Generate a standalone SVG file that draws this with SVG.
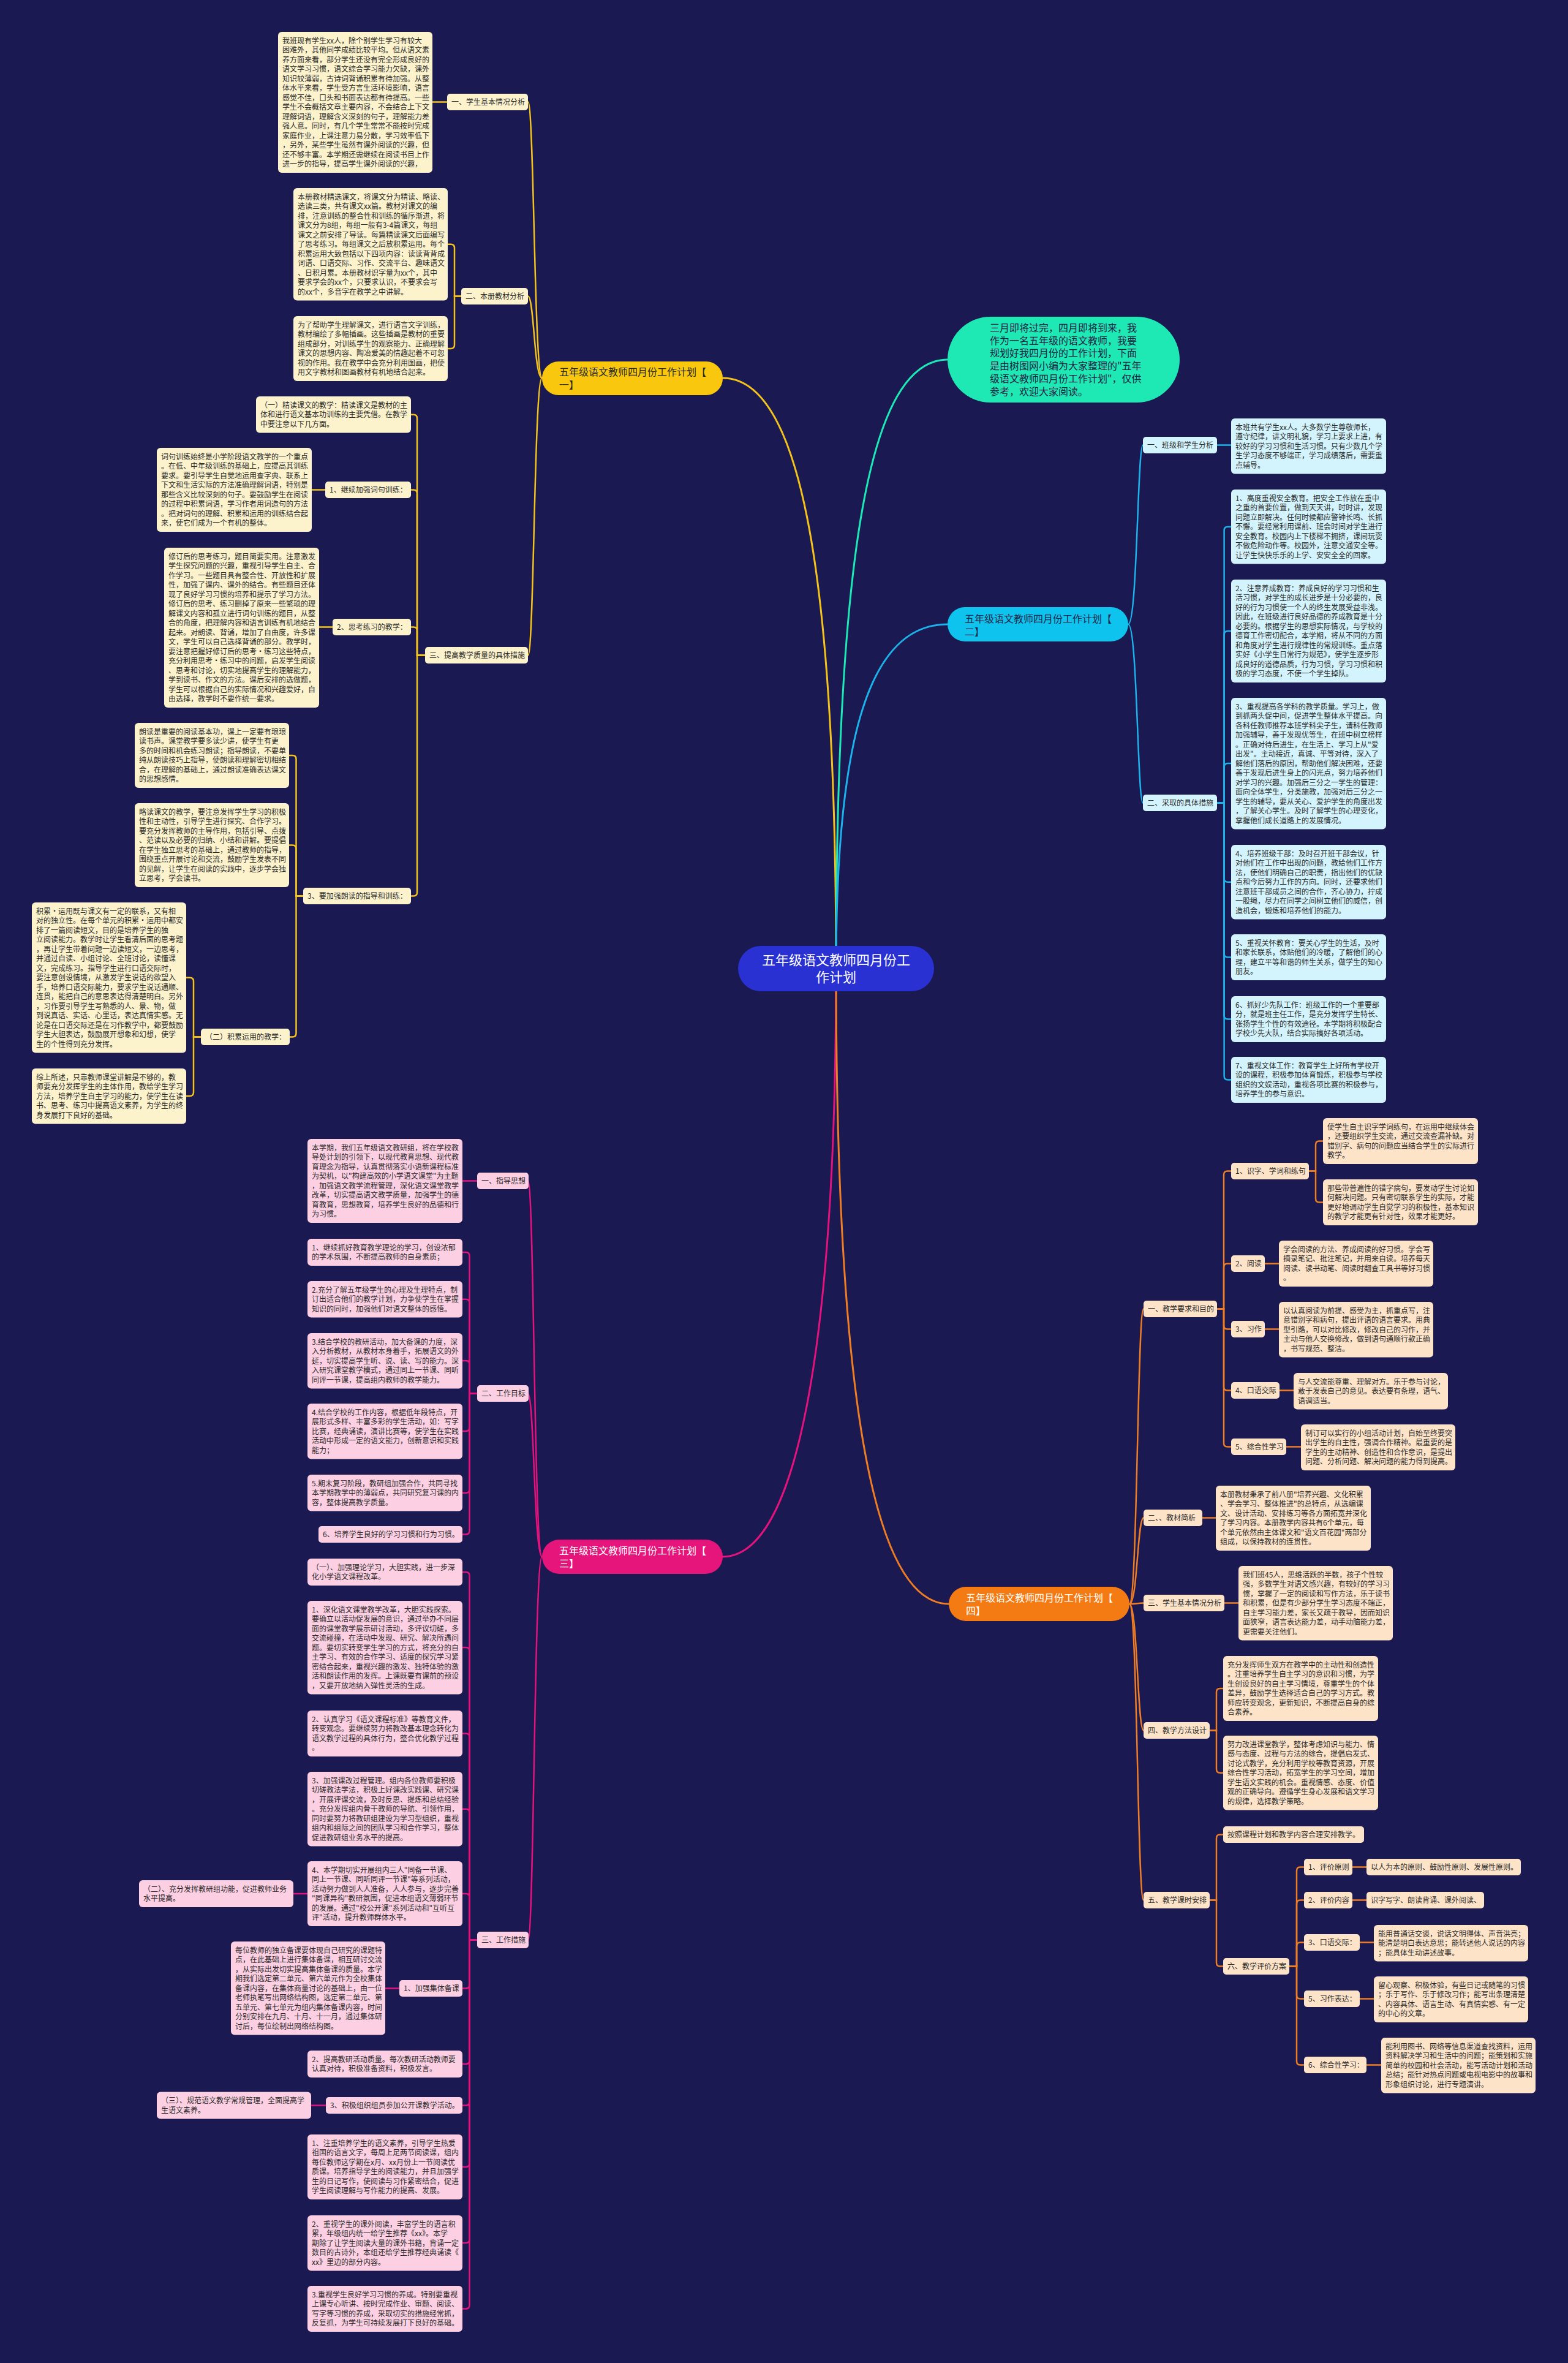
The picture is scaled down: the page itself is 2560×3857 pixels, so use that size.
<svg xmlns="http://www.w3.org/2000/svg" width="2560" height="3857" viewBox="0 0 2560 3857">
<style>
.t{font-family:"Noto Sans CJK SC","Noto Sans",sans-serif;font-size:12px;fill:#2b2b2b}
.b{font-family:"Noto Sans CJK SC","Noto Sans",sans-serif;font-size:16px}
.c{font-family:"Noto Sans CJK SC","Noto Sans",sans-serif;font-size:22px;fill:#ffffff}
.ny{fill:#fcf3cd}.np{fill:#fccfe2}.nc{fill:#d3f4fc}.no{fill:#fde3c8}
.ly,.lp,.lc,.lo,.lt{fill:none;stroke-width:2.5;stroke-linecap:round}
.ly{stroke:#f3c21b}.lp{stroke:#e3137c}.lc{stroke:#1db3ea}.lo{stroke:#ee7d24}.lt{stroke:#1de9b6}
.m{stroke-width:3}
</style>
<rect x="0" y="0" width="2560" height="3857" fill="#1a1952"/>
<g id="connectors">
<path class="ly m" d="M1365 1581 C1365 900 1300 617 1180 617"/>
<path class="lt m" d="M1365 1581 C1365 900 1420 587 1547 587"/>
<path class="lc m" d="M1365 1581 C1365 1200 1420 1019 1547 1019"/>
<path class="lp m" d="M1365 1581 C1365 2200 1300 2541 1180 2541"/>
<path class="lo m" d="M1365 1581 C1365 2250 1420 2618 1549 2618"/>
<path class="ly" d="M885 617 C872 617 872 166.5 862 166.5"/>
<path class="ly" d="M885 617 C872 617 872 483.5 862 483.5"/>
<path class="ly" d="M885 617 C872 617 872 1069.5 862 1069.5"/>
<path class="ly" d="M730 166.5 H706"/>
<path class="ly" d="M753 483.5 H742 V404.75 Q742 398.75 736 398.75 H731"/>
<path class="ly" d="M753 483.5 H742 V563 Q742 569 736 569 H731"/>
<path class="ly" d="M694 1069.5 H681 V682.75 Q681 676.75 675 676.75 H671"/>
<path class="ly" d="M694 1069.5 H681 V805.5 Q681 799.5 675 799.5 H671"/>
<path class="ly" d="M694 1069.5 H681 V1029.5 Q681 1023.5 675 1023.5 H671"/>
<path class="ly" d="M694 1069.5 H681 V1456.5 Q681 1462.5 675 1462.5 H671"/>
<path class="ly" d="M531 799.5 H509"/>
<path class="ly" d="M543 1023.5 H521"/>
<path class="ly" d="M495 1462.5 H483.5 V1239 Q483.5 1233 477.5 1233 H472"/>
<path class="ly" d="M495 1462.5 H483.5 V1385.5 Q483.5 1379.5 477.5 1379.5 H472"/>
<path class="ly" d="M495 1462.5 H483.5 V1686.5 Q483.5 1692.5 477.5 1692.5 H473"/>
<path class="ly" d="M328 1692.5 H316 V1601.75 Q316 1595.75 310 1595.75 H304"/>
<path class="ly" d="M328 1692.5 H316 V1783 Q316 1789 310 1789 H304"/>
<path class="lp" d="M885 2541 C872 2541 872 1927.5 862 1927.5"/>
<path class="lp" d="M885 2541 C872 2541 872 2274.5 862 2274.5"/>
<path class="lp" d="M885 2541 C872 2541 872 3166.5 862 3166.5"/>
<path class="lp" d="M779 1927.5 H755"/>
<path class="lp" d="M779 2274.5 H766.5 V2050 Q766.5 2044 760.5 2044 H755"/>
<path class="lp" d="M779 2274.5 H766.5 V2126.75 Q766.5 2120.75 760.5 2120.75 H755"/>
<path class="lp" d="M779 2274.5 H766.5 V2227 Q766.5 2221 760.5 2221 H755"/>
<path class="lp" d="M779 2274.5 H766.5 V2330 Q766.5 2336 760.5 2336 H755"/>
<path class="lp" d="M779 2274.5 H766.5 V2430.75 Q766.5 2436.75 760.5 2436.75 H755"/>
<path class="lp" d="M779 2274.5 H766.5 V2498.5 Q766.5 2504.5 760.5 2504.5 H755"/>
<path class="lp" d="M779 3166.5 H766.5 V2572 Q766.5 2566 760.5 2566 H755"/>
<path class="lp" d="M779 3166.5 H766.5 V2695 Q766.5 2689 760.5 2689 H755"/>
<path class="lp" d="M779 3166.5 H766.5 V2835.5 Q766.5 2829.5 760.5 2829.5 H755"/>
<path class="lp" d="M779 3166.5 H766.5 V2958.75 Q766.5 2952.75 760.5 2952.75 H755"/>
<path class="lp" d="M779 3166.5 H766.5 V3097 Q766.5 3091 760.5 3091 H755"/>
<path class="lp" d="M779 3166.5 H766.5 V3239.5 Q766.5 3245.5 760.5 3245.5 H755"/>
<path class="lp" d="M779 3166.5 H766.5 V3363 Q766.5 3369 760.5 3369 H755"/>
<path class="lp" d="M779 3166.5 H766.5 V3430.5 Q766.5 3436.5 760.5 3436.5 H755"/>
<path class="lp" d="M779 3166.5 H766.5 V3531 Q766.5 3537 760.5 3537 H755"/>
<path class="lp" d="M779 3166.5 H766.5 V3655 Q766.5 3661 760.5 3661 H755"/>
<path class="lp" d="M779 3166.5 H766.5 V3762.5 Q766.5 3768.5 760.5 3768.5 H755"/>
<path class="lp" d="M502 3091 H479"/>
<path class="lp" d="M652 3245.5 H629"/>
<path class="lp" d="M532 3436.5 H508"/>
<path class="lc" d="M1842 1019 C1857 1019 1857 726.5 1866 726.5"/>
<path class="lc" d="M1842 1019 C1857 1019 1857 1310.5 1866 1310.5"/>
<path class="lc" d="M1987 726.5 H2010"/>
<path class="lc" d="M1987 1310.5 H1998.6 V865.75 Q1998.6 859.75 2004.6 859.75 H2010"/>
<path class="lc" d="M1987 1310.5 H1998.6 V1036 Q1998.6 1030 2004.6 1030 H2010"/>
<path class="lc" d="M1987 1310.5 H1998.6 V1252 Q1998.6 1246 2004.6 1246 H2010"/>
<path class="lc" d="M1987 1310.5 H1998.6 V1433.75 Q1998.6 1439.75 2004.6 1439.75 H2010"/>
<path class="lc" d="M1987 1310.5 H1998.6 V1556.5 Q1998.6 1562.5 2004.6 1562.5 H2010"/>
<path class="lc" d="M1987 1310.5 H1998.6 V1657.5 Q1998.6 1663.5 2004.6 1663.5 H2010"/>
<path class="lc" d="M1987 1310.5 H1998.6 V1756.5 Q1998.6 1762.5 2004.6 1762.5 H2010"/>
<path class="lo" d="M1844 2618 C1857 2618 1857 2136.5 1867 2136.5"/>
<path class="lo" d="M1844 2618 C1857 2618 1857 2477.5 1867 2477.5"/>
<path class="lo" d="M1844 2618 C1857 2618 1857 2616.5 1867 2616.5"/>
<path class="lo" d="M1844 2618 C1857 2618 1857 2824.5 1867 2824.5"/>
<path class="lo" d="M1844 2618 C1857 2618 1857 3101.5 1867 3101.5"/>
<path class="lo" d="M1987 2136.5 H1998 V1917.5 Q1998 1911.5 2004 1911.5 H2010"/>
<path class="lo" d="M1987 2136.5 H1998 V2068.5 Q1998 2062.5 2004 2062.5 H2010"/>
<path class="lo" d="M1987 2136.5 H1998 V2163.5 Q1998 2169.5 2004 2169.5 H2010"/>
<path class="lo" d="M1987 2136.5 H1998 V2263.5 Q1998 2269.5 2004 2269.5 H2010"/>
<path class="lo" d="M1987 2136.5 H1998 V2355.5 Q1998 2361.5 2004 2361.5 H2010"/>
<path class="lo" d="M2137 1911.5 H2148 V1868.5 Q2148 1862.5 2154 1862.5 H2160"/>
<path class="lo" d="M2137 1911.5 H2148 V1956.5 Q2148 1962.5 2154 1962.5 H2160"/>
<path class="lo" d="M2065 2062.5 H2088"/>
<path class="lo" d="M2065 2169.5 H2088"/>
<path class="lo" d="M2089 2269.5 H2112"/>
<path class="lo" d="M2100 2361.5 H2124"/>
<path class="lo" d="M1963 2477.5 H1985"/>
<path class="lo" d="M1999 2616.5 H2022"/>
<path class="lo" d="M1975 2824.5 H1986 V2762 Q1986 2756 1992 2756 H1997"/>
<path class="lo" d="M1975 2824.5 H1986 V2887.75 Q1986 2893.75 1992 2893.75 H1997"/>
<path class="lo" d="M1975 3101.5 H1986 V3000.5 Q1986 2994.5 1992 2994.5 H1997"/>
<path class="lo" d="M1975 3101.5 H1986 V3203.5 Q1986 3209.5 1992 3209.5 H1997"/>
<path class="lo" d="M2105 3209.5 H2117 V3053.5 Q2117 3047.5 2123 3047.5 H2129"/>
<path class="lo" d="M2105 3209.5 H2117 V3107.5 Q2117 3101.5 2123 3101.5 H2129"/>
<path class="lo" d="M2105 3209.5 H2117 V3176.5 Q2117 3170.5 2123 3170.5 H2129"/>
<path class="lo" d="M2105 3209.5 H2117 V3256.5 Q2117 3262.5 2123 3262.5 H2129"/>
<path class="lo" d="M2105 3209.5 H2117 V3364.5 Q2117 3370.5 2123 3370.5 H2129"/>
<path class="lo" d="M2208 3047.5 H2231"/>
<path class="lo" d="M2208 3101.5 H2231"/>
<path class="lo" d="M2220 3170.5 H2243"/>
<path class="lo" d="M2220 3262.5 H2243"/>
<path class="lo" d="M2231 3370.5 H2255"/>
</g>
<g id="root"><rect x="1205" y="1544" width="320" height="74" rx="37" fill="#2a31d2"/><text class="c" text-anchor="middle"><tspan x="1365" y="1575">五年级语文教师四月份工</tspan><tspan x="1365" y="1603">作计划</tspan></text></g>
<g id="intro"><rect x="1547" y="517" width="379" height="140" rx="70" fill="#1ee8b4"/><text class="b" fill="#222244"><tspan x="1616" y="541">三月即将过完，四月即将到来，我</tspan><tspan x="1616" dy="20.7">作为一名五年级的语文教师，我要</tspan><tspan x="1616" dy="20.7">规划好我四月份的工作计划，下面</tspan><tspan x="1616" dy="20.7">是由树图网小编为大家整理的"五年</tspan><tspan x="1616" dy="20.7">级语文教师四月份工作计划"，仅供</tspan><tspan x="1616" dy="20.7">参考，欢迎大家阅读。</tspan></text></g>
<g id="b1"><rect x="885" y="590" width="295" height="55" rx="27" fill="#f9c80e"/><text class="b" fill="#2a2a2a"><tspan x="913" y="613">五年级语文教师四月份工作计划【</tspan><tspan x="913" dy="21">一】</tspan></text></g>
<g id="b2"><rect x="1547" y="991" width="295" height="56" rx="28" fill="#0fc3ef"/><text class="b" fill="#1f2a4a"><tspan x="1575" y="1016">五年级语文教师四月份工作计划【</tspan><tspan x="1575" dy="21">二】</tspan></text></g>
<g id="b3"><rect x="885" y="2513" width="295" height="56" rx="28" fill="#e5157b"/><text class="b" fill="#ffffff"><tspan x="913" y="2537">五年级语文教师四月份工作计划【</tspan><tspan x="913" dy="21">三】</tspan></text></g>
<g id="b4"><rect x="1549" y="2590" width="295" height="56" rx="28" fill="#f47b13"/><text class="b" fill="#ffffff"><tspan x="1577" y="2614">五年级语文教师四月份工作计划【</tspan><tspan x="1577" dy="21">四】</tspan></text></g>

<g id="y-l1"><rect class="ny" x="730" y="153" width="132" height="27" rx="5"/><text class="t" x="737" y="171">一、学生基本情况分析</text></g>
<g id="y-n1"><rect class="ny" x="454" y="52" width="252" height="230" rx="6"/><text class="t"><tspan x="461" y="70.5">我班现有学生xx人，除个别学生学习有较大</tspan><tspan x="461" dy="15.5">困难外，其他同学成绩比较平均。但从语文素</tspan><tspan x="461" dy="15.5">养方面来看，部分学生还没有完全形成良好的</tspan><tspan x="461" dy="15.5">语文学习习惯，语文综合学习能力欠缺，课外</tspan><tspan x="461" dy="15.5">知识较薄弱，古诗词背诵积累有待加强。从整</tspan><tspan x="461" dy="15.5">体水平来看，学生受方言生活环境影响，语言</tspan><tspan x="461" dy="15.5">感觉不佳，口头和书面表达都有待提高。一些</tspan><tspan x="461" dy="15.5">学生不会概括文章主要内容，不会结合上下文</tspan><tspan x="461" dy="15.5">理解词语，理解含义深刻的句子，理解能力差</tspan><tspan x="461" dy="15.5">强人意。同时，有几个学生常常不能按时完成</tspan><tspan x="461" dy="15.5">家庭作业，上课注意力易分散，学习效率低下</tspan><tspan x="461" dy="15.5">，另外，某些学生虽然有课外阅读的兴趣，但</tspan><tspan x="461" dy="15.5">还不够丰富。本学期还需继续在阅读书目上作</tspan><tspan x="461" dy="15.5">进一步的指导，提高学生课外阅读的兴趣，</tspan></text></g>
<g id="y-l2"><rect class="ny" x="753" y="470" width="109" height="27" rx="5"/><text class="t" x="760" y="488">二、本册教材分析</text></g>
<g id="y-n2"><rect class="ny" x="479" y="307" width="252" height="183.5" rx="6"/><text class="t"><tspan x="486" y="325.5">本册教材精选课文，将课文分为精读、略读、</tspan><tspan x="486" dy="15.5">选读三类，共有课文xx篇。教材对课文的编</tspan><tspan x="486" dy="15.5">排，注意训练的整合性和训练的循序渐进，将</tspan><tspan x="486" dy="15.5">课文分为8组，每组一般有3-4篇课文，每组</tspan><tspan x="486" dy="15.5">课文之前安排了导读。每篇精读课文后面编写</tspan><tspan x="486" dy="15.5">了思考练习。每组课文之后放积累运用。每个</tspan><tspan x="486" dy="15.5">积累运用大致包括以下四项内容：读读背背成</tspan><tspan x="486" dy="15.5">词语、口语交际、习作、交流平台、趣味语文</tspan><tspan x="486" dy="15.5">、日积月累。本册教材识字量为xx个，其中</tspan><tspan x="486" dy="15.5">要求学会的xx个，只要求认识，不要求会写</tspan><tspan x="486" dy="15.5">的xx个，多音字在教学之中讲解。</tspan></text></g>
<g id="y-n3"><rect class="ny" x="479" y="516" width="252" height="106" rx="6"/><text class="t"><tspan x="486" y="534.5">为了帮助学生理解课文，进行语言文字训练，</tspan><tspan x="486" dy="15.5">教材编绘了多幅插画。这些插画是教材的重要</tspan><tspan x="486" dy="15.5">组成部分，对训练学生的观察能力、正确理解</tspan><tspan x="486" dy="15.5">课文的思想内容、陶冶爱美的情趣起着不可忽</tspan><tspan x="486" dy="15.5">视的作用。我在教学中会充分利用图画，把使</tspan><tspan x="486" dy="15.5">用文字教材和图画教材有机地结合起来。</tspan></text></g>
<g id="y-l3"><rect class="ny" x="694" y="1056" width="168" height="27" rx="5"/><text class="t" x="701" y="1074">三、提高教学质量的具体措施</text></g>
<g id="y-n4"><rect class="ny" x="418" y="647" width="253" height="59.5" rx="6"/><text class="t"><tspan x="425" y="665.5">（一）精读课文的教学：精读课文是教材的主</tspan><tspan x="425" dy="15.5">体和进行语文基本功训练的主要凭借。在教学</tspan><tspan x="425" dy="15.5">中要注意以下几方面。</tspan></text></g>
<g id="y-l31"><rect class="ny" x="531" y="786" width="140" height="27" rx="5"/><text class="t" x="538" y="804">1、继续加强词句训练：</text></g>
<g id="y-n5"><rect class="ny" x="256" y="731" width="253" height="137" rx="6"/><text class="t"><tspan x="263" y="749.5">词句训练始终是小学阶段语文教学的一个重点</tspan><tspan x="263" dy="15.5">。在低、中年级训练的基础上，应提高其训练</tspan><tspan x="263" dy="15.5">要求。要引导学生自觉地运用查字典、联系上</tspan><tspan x="263" dy="15.5">下文和生活实际的方法准确理解词语，特别是</tspan><tspan x="263" dy="15.5">那些含义比较深刻的句子。要鼓励学生在阅读</tspan><tspan x="263" dy="15.5">的过程中积累词语，学习作者用词造句的方法</tspan><tspan x="263" dy="15.5">。把对词句的理解、积累和运用的训练结合起</tspan><tspan x="263" dy="15.5">来，使它们成为一个有机的整体。</tspan></text></g>
<g id="y-l32"><rect class="ny" x="543" y="1010" width="128" height="27" rx="5"/><text class="t" x="550" y="1028">2、思考练习的教学：</text></g>
<g id="y-n6"><rect class="ny" x="268" y="894" width="253" height="261" rx="6"/><text class="t"><tspan x="275" y="912.5">修订后的思考练习，题目简要实用。注意激发</tspan><tspan x="275" dy="15.5">学生探究问题的兴趣，重视引导学生自主、合</tspan><tspan x="275" dy="15.5">作学习。一些题目具有整合性、开放性和扩展</tspan><tspan x="275" dy="15.5">性，加强了课内、课外的结合。有些题目还体</tspan><tspan x="275" dy="15.5">现了良好学习习惯的培养和提示了学习方法。</tspan><tspan x="275" dy="15.5">修订后的思考、练习删掉了原来一些繁琐的理</tspan><tspan x="275" dy="15.5">解课文内容和孤立进行词句训练的题目，从整</tspan><tspan x="275" dy="15.5">合的角度，把理解内容和语言训练有机地结合</tspan><tspan x="275" dy="15.5">起来。对朗读、背诵，增加了自由度，许多课</tspan><tspan x="275" dy="15.5">文，学生可以自己选择背诵的部分。教学时，</tspan><tspan x="275" dy="15.5">要注意把握好修订后的思考•练习这些特点，</tspan><tspan x="275" dy="15.5">充分利用思考•练习中的问题，启发学生阅读</tspan><tspan x="275" dy="15.5">、思考和讨论，切实地提高学生的理解能力，</tspan><tspan x="275" dy="15.5">学到读书、作文的方法。课后安排的选做题，</tspan><tspan x="275" dy="15.5">学生可以根据自己的实际情况和兴趣爱好，自</tspan><tspan x="275" dy="15.5">由选择，教学时不要作统一要求。</tspan></text></g>
<g id="y-l33"><rect class="ny" x="495" y="1449" width="176" height="27" rx="5"/><text class="t" x="502" y="1467">3、要加强朗读的指导和训练：</text></g>
<g id="y-n7"><rect class="ny" x="220" y="1180" width="252" height="106" rx="6"/><text class="t"><tspan x="227" y="1198.5">朗读是重要的阅读基本功，课上一定要有琅琅</tspan><tspan x="227" dy="15.5">读书声。课堂教学要多读少讲，使学生有更</tspan><tspan x="227" dy="15.5">多的时间和机会练习朗读；指导朗读，不要单</tspan><tspan x="227" dy="15.5">纯从朗读技巧上指导，使朗读和理解密切相结</tspan><tspan x="227" dy="15.5">合，在理解的基础上，通过朗读准确表达课文</tspan><tspan x="227" dy="15.5">的思想感情。</tspan></text></g>
<g id="y-n8"><rect class="ny" x="220" y="1311" width="252" height="137" rx="6"/><text class="t"><tspan x="227" y="1329.5">略读课文的教学，要注意发挥学生学习的积极</tspan><tspan x="227" dy="15.5">性和主动性，引导学生进行探究、合作学习。</tspan><tspan x="227" dy="15.5">要充分发挥教师的主导作用，包括引导、点拨</tspan><tspan x="227" dy="15.5">、范读以及必要的归纳、小结和讲解。要提倡</tspan><tspan x="227" dy="15.5">在学生独立思考的基础上，通过教师的指导，</tspan><tspan x="227" dy="15.5">围绕重点开展讨论和交流，鼓励学生发表不同</tspan><tspan x="227" dy="15.5">的见解，让学生在阅读的实践中，逐步学会独</tspan><tspan x="227" dy="15.5">立思考，学会读书。</tspan></text></g>
<g id="y-l34"><rect class="ny" x="328" y="1679" width="145" height="27" rx="5"/><text class="t" x="335" y="1697">（二）积累运用的教学：</text></g>
<g id="y-n9"><rect class="ny" x="52" y="1473" width="252" height="245.5" rx="6"/><text class="t"><tspan x="59" y="1491.5">积累•运用既与课文有一定的联系，又有相</tspan><tspan x="59" dy="15.5">对的独立性。在每个单元的积累•运用中都安</tspan><tspan x="59" dy="15.5">排了一篇阅读短文，目的是培养学生的独</tspan><tspan x="59" dy="15.5">立阅读能力。教学时让学生看清后面的思考题</tspan><tspan x="59" dy="15.5">，再让学生带着问题一边读短文，一边思考，</tspan><tspan x="59" dy="15.5">并通过自读、小组讨论、全班讨论，读懂课</tspan><tspan x="59" dy="15.5">文，完成练习。指导学生进行口语交际时，</tspan><tspan x="59" dy="15.5">要注意创设情境，从激发学生说话的欲望入</tspan><tspan x="59" dy="15.5">手，培养口语交际能力，要求学生说话通顺、</tspan><tspan x="59" dy="15.5">连贯，能把自己的意思表达得清楚明白。另外</tspan><tspan x="59" dy="15.5">，习作要引导学生写熟悉的人、景、物，做</tspan><tspan x="59" dy="15.5">到说真话、实话、心里话，表达真情实感。无</tspan><tspan x="59" dy="15.5">论是在口语交际还是在习作教学中，都要鼓励</tspan><tspan x="59" dy="15.5">学生大胆表达，鼓励展开想象和幻想，使学</tspan><tspan x="59" dy="15.5">生的个性得到充分发挥。</tspan></text></g>
<g id="y-n10"><rect class="ny" x="52" y="1744" width="252" height="90.5" rx="6"/><text class="t"><tspan x="59" y="1762.5">综上所述，只靠教师课堂讲解是不够的，教</tspan><tspan x="59" dy="15.5">师要充分发挥学生的主体作用，教给学生学习</tspan><tspan x="59" dy="15.5">方法，培养学生自主学习的能力，使学生在读</tspan><tspan x="59" dy="15.5">书、思考、练习中提高语文素养，为学生的终</tspan><tspan x="59" dy="15.5">身发展打下良好的基础。</tspan></text></g>

<g id="p-l1"><rect class="np" x="779" y="1914" width="84" height="27" rx="5"/><text class="t" x="786" y="1932">一、指导思想</text></g>
<g id="p-n11"><rect class="np" x="502" y="1859" width="253" height="137" rx="6"/><text class="t"><tspan x="509" y="1877.5">本学期，我们五年级语文教研组，将在学校教</tspan><tspan x="509" dy="15.5">导处计划的引领下，以现代教育思想、现代教</tspan><tspan x="509" dy="15.5">育理念为指导，认真贯彻落实小语新课程标准</tspan><tspan x="509" dy="15.5">为契机，以"构建高效的小学语文课堂"为主题</tspan><tspan x="509" dy="15.5">，加强语文教学流程管理，深化语文课堂教学</tspan><tspan x="509" dy="15.5">改革，切实提高语文教学质量，加强学生的德</tspan><tspan x="509" dy="15.5">育教育，思想教育，培养学生良好的品德和行</tspan><tspan x="509" dy="15.5">为习惯。</tspan></text></g>
<g id="p-l2"><rect class="np" x="779" y="2261" width="84" height="27" rx="5"/><text class="t" x="786" y="2279">二、工作目标</text></g>
<g id="p-n12"><rect class="np" x="502" y="2022" width="253" height="44" rx="6"/><text class="t"><tspan x="509" y="2040.5">1、继续抓好教育教学理论的学习，创设浓郁</tspan><tspan x="509" dy="15.5">的学术氛围，不断提高教师的自身素质；</tspan></text></g>
<g id="p-n13"><rect class="np" x="502" y="2091" width="253" height="59.5" rx="6"/><text class="t"><tspan x="509" y="2109.5">2.充分了解五年级学生的心理及生理特点，制</tspan><tspan x="509" dy="15.5">订出适合他们的教学计划，力争使学生在掌握</tspan><tspan x="509" dy="15.5">知识的同时，加强他们对语文整体的感悟。</tspan></text></g>
<g id="p-n14"><rect class="np" x="502" y="2176" width="253" height="90.5" rx="6"/><text class="t"><tspan x="509" y="2194.5">3.结合学校的教研活动，加大备课的力度，深</tspan><tspan x="509" dy="15.5">入分析教材，从教材本身着手，拓展语文的外</tspan><tspan x="509" dy="15.5">延，切实提高学生听、说、读、写的能力。深</tspan><tspan x="509" dy="15.5">入研究课堂教学模式，通过同上一节课、同听</tspan><tspan x="509" dy="15.5">同评一节课，提高组内教师的教学能力。</tspan></text></g>
<g id="p-n15"><rect class="np" x="502" y="2291" width="253" height="90.5" rx="6"/><text class="t"><tspan x="509" y="2309.5">4.结合学校的工作内容，根据低年段特点，开</tspan><tspan x="509" dy="15.5">展形式多样、丰富多彩的学生活动，如：写字</tspan><tspan x="509" dy="15.5">比赛，经典诵读，演讲比赛等，使学生在实践</tspan><tspan x="509" dy="15.5">活动中形成一定的语文能力，创新意识和实践</tspan><tspan x="509" dy="15.5">能力；</tspan></text></g>
<g id="p-n16"><rect class="np" x="502" y="2407" width="253" height="59.5" rx="6"/><text class="t"><tspan x="509" y="2425.5">5.期末复习阶段，教研组加强合作，共同寻找</tspan><tspan x="509" dy="15.5">本学期教学中的薄弱点，共同研究复习课的内</tspan><tspan x="509" dy="15.5">容，整体提高教学质量。</tspan></text></g>
<g id="p-n17"><rect class="np" x="520" y="2491" width="235" height="27" rx="5"/><text class="t" x="527" y="2509">6、培养学生良好的学习习惯和行为习惯。</text></g>
<g id="p-l3"><rect class="np" x="779" y="3153" width="84" height="27" rx="5"/><text class="t" x="786" y="3171">三、工作措施</text></g>
<g id="p-n18"><rect class="np" x="502" y="2544" width="253" height="44" rx="6"/><text class="t"><tspan x="509" y="2562.5">（一）、加强理论学习，大胆实践，进一步深</tspan><tspan x="509" dy="15.5">化小学语文课程改革。</tspan></text></g>
<g id="p-n19"><rect class="np" x="502" y="2613" width="253" height="152.5" rx="6"/><text class="t"><tspan x="509" y="2631.5">1、深化语文课堂教学改革，大胆实践探索。</tspan><tspan x="509" dy="15.5">要确立以活动促发展的意识，通过举办不同层</tspan><tspan x="509" dy="15.5">面的课堂教学展示研讨活动，多评议切磋，多</tspan><tspan x="509" dy="15.5">交流碰撞，在活动中发现、研究、解决所遇问</tspan><tspan x="509" dy="15.5">题。要切实转变学生学习的方式，将充分的自</tspan><tspan x="509" dy="15.5">主学习、有效的合作学习、适度的探究学习紧</tspan><tspan x="509" dy="15.5">密结合起来，重视兴趣的激发、独特体验的激</tspan><tspan x="509" dy="15.5">活和朗读作用的发挥。上课既要有课前的预设</tspan><tspan x="509" dy="15.5">，又要开放地纳入弹性灵活的生成。</tspan></text></g>
<g id="p-n20"><rect class="np" x="502" y="2792" width="253" height="75" rx="6"/><text class="t"><tspan x="509" y="2810.5">2、认真学习《语文课程标准》等教育文件，</tspan><tspan x="509" dy="15.5">转变观念。要继续努力将教改基本理念转化为</tspan><tspan x="509" dy="15.5">语文教学过程的具体行为，整合优化教学过程</tspan><tspan x="509" dy="15.5">。</tspan></text></g>
<g id="p-n21"><rect class="np" x="502" y="2892" width="253" height="121.5" rx="6"/><text class="t"><tspan x="509" y="2910.5">3、加强课改过程管理。组内各位教师要积极</tspan><tspan x="509" dy="15.5">切磋教法学法，积极上好课改实践课、研究课</tspan><tspan x="509" dy="15.5">，开展评课交流，及时反思、提炼和总结经验</tspan><tspan x="509" dy="15.5">。充分发挥组内骨干教师的导航、引领作用，</tspan><tspan x="509" dy="15.5">同时要努力将教研组建设为学习型组织，重视</tspan><tspan x="509" dy="15.5">组内和组际之间的团队学习和合作学习，整体</tspan><tspan x="509" dy="15.5">促进教研组业务水平的提高。</tspan></text></g>
<g id="p-n22"><rect class="np" x="502" y="3038" width="253" height="106" rx="6"/><text class="t"><tspan x="509" y="3056.5">4、本学期切实开展组内三人"同备一节课、</tspan><tspan x="509" dy="15.5">同上一节课、同听同评一节课"等系列活动，</tspan><tspan x="509" dy="15.5">活动努力做到人人准备，人人参与，逐步完善</tspan><tspan x="509" dy="15.5">"同课异构"教研氛围，促进本组语文薄弱环节</tspan><tspan x="509" dy="15.5">的发展。通过"校公开课"系列活动和"互听互</tspan><tspan x="509" dy="15.5">评"活动，提升教师群体水平。</tspan></text></g>
<g id="p-n22b"><rect class="np" x="227" y="3069" width="252" height="44" rx="6"/><text class="t"><tspan x="234" y="3087.5">（二）、充分发挥教研组功能，促进教师业务</tspan><tspan x="234" dy="15.5">水平提高。</tspan></text></g>
<g id="p-l31"><rect class="np" x="652" y="3232" width="103" height="27" rx="5"/><text class="t" x="659" y="3250">1、加强集体备课</text></g>
<g id="p-n24"><rect class="np" x="377" y="3169" width="252" height="152.5" rx="6"/><text class="t"><tspan x="384" y="3187.5">每位教师的独立备课要体现自己研究的课题特</tspan><tspan x="384" dy="15.5">点，在此基础上进行集体备课，相互研讨交流</tspan><tspan x="384" dy="15.5">，从实际出发切实提高集体备课的质量。本学</tspan><tspan x="384" dy="15.5">期我们选定第二单元、第六单元作为全校集体</tspan><tspan x="384" dy="15.5">备课内容，在集体商量讨论的基础上，由一位</tspan><tspan x="384" dy="15.5">老师执笔写出网络结构图，选定第二单元、第</tspan><tspan x="384" dy="15.5">五单元、第七单元为组内集体备课内容，时间</tspan><tspan x="384" dy="15.5">分别安排在九月、十月、十一月，通过集体研</tspan><tspan x="384" dy="15.5">讨后，每位绘制出网络结构图。</tspan></text></g>
<g id="p-n25"><rect class="np" x="502" y="3347" width="253" height="44" rx="6"/><text class="t"><tspan x="509" y="3365.5">2、提高教研活动质量。每次教研活动教师要</tspan><tspan x="509" dy="15.5">认真对待，积极准备资料，积极发言。</tspan></text></g>
<g id="p-n26"><rect class="np" x="532" y="3423" width="223" height="27" rx="5"/><text class="t" x="539" y="3441">3、积极组织组员参加公开课教学活动。</text></g>
<g id="p-n27"><rect class="np" x="256" y="3414.5" width="252" height="44" rx="6"/><text class="t"><tspan x="263" y="3433">（三）、规范语文教学常规管理，全面提高学</tspan><tspan x="263" dy="15.5">生语文素养。</tspan></text></g>
<g id="p-n28"><rect class="np" x="502" y="3484" width="253" height="106" rx="6"/><text class="t"><tspan x="509" y="3502.5">1、注重培养学生的语文素养，引导学生热爱</tspan><tspan x="509" dy="15.5">祖国的语言文字，每周上足两节阅读课，组内</tspan><tspan x="509" dy="15.5">每位教师这学期在x月、xx月份上一节阅读优</tspan><tspan x="509" dy="15.5">质课。培养指导学生的阅读能力，并且加强学</tspan><tspan x="509" dy="15.5">生的日记写作，使阅读与习作紧密结合，促进</tspan><tspan x="509" dy="15.5">学生阅读理解与写作能力的提高、发展。</tspan></text></g>
<g id="p-n29"><rect class="np" x="502" y="3616" width="253" height="90.5" rx="6"/><text class="t"><tspan x="509" y="3634.5">2、重视学生的课外阅读，丰富学生的语言积</tspan><tspan x="509" dy="15.5">累，年级组内统一给学生推荐《xx》。本学</tspan><tspan x="509" dy="15.5">期除了让学生阅读大量的课外书籍，背诵一定</tspan><tspan x="509" dy="15.5">数目的古诗外，本组还给学生推荐经典诵读《</tspan><tspan x="509" dy="15.5">xx》里边的部分内容。</tspan></text></g>
<g id="p-n30"><rect class="np" x="502" y="3731" width="253" height="75" rx="6"/><text class="t"><tspan x="509" y="3749.5">3.重视学生良好学习习惯的养成。特别要重视</tspan><tspan x="509" dy="15.5">上课专心听讲、按时完成作业、审题、阅读、</tspan><tspan x="509" dy="15.5">写字等习惯的养成，采取切实的措施经常抓，</tspan><tspan x="509" dy="15.5">反复抓，为学生可持续发展打下良好的基础。</tspan></text></g>

<g id="c-l1"><rect class="nc" x="1866" y="713" width="121" height="27" rx="5"/><text class="t" x="1873" y="731">一、班级和学生分析</text></g>
<g id="c-r1"><rect class="nc" x="2010" y="683" width="253" height="90.5" rx="6"/><text class="t"><tspan x="2017" y="701.5">本班共有学生xx人。大多数学生尊敬师长，</tspan><tspan x="2017" dy="15.5">遵守纪律，讲文明礼貌，学习上要求上进，有</tspan><tspan x="2017" dy="15.5">较好的学习习惯和生活习惯。只有少数几个学</tspan><tspan x="2017" dy="15.5">生学习态度不够端正，学习成绩落后，需要重</tspan><tspan x="2017" dy="15.5">点辅导。</tspan></text></g>
<g id="c-l2"><rect class="nc" x="1866" y="1297" width="121" height="27" rx="5"/><text class="t" x="1873" y="1315">二、采取的具体措施</text></g>
<g id="c-r2"><rect class="nc" x="2010" y="799" width="253" height="121.5" rx="6"/><text class="t"><tspan x="2017" y="817.5">1、高度重视安全教育。把安全工作放在重中</tspan><tspan x="2017" dy="15.5">之重的首要位置，做到天天讲，时时讲，发现</tspan><tspan x="2017" dy="15.5">问题立即解决。任何时候都应警钟长鸣、长抓</tspan><tspan x="2017" dy="15.5">不懈。要经常利用课前、班会时间对学生进行</tspan><tspan x="2017" dy="15.5">安全教育。校园内上下楼梯不拥挤，课间玩耍</tspan><tspan x="2017" dy="15.5">不做危险动作等。校园外，注意交通安全等。</tspan><tspan x="2017" dy="15.5">让学生快快乐乐的上学、安安全全的回家。</tspan></text></g>
<g id="c-r3"><rect class="nc" x="2010" y="946" width="253" height="168" rx="6"/><text class="t"><tspan x="2017" y="964.5">2、注意养成教育：养成良好的学习习惯和生</tspan><tspan x="2017" dy="15.5">活习惯，对学生的成长进步是十分必要的，良</tspan><tspan x="2017" dy="15.5">好的行为习惯使一个人的终生发展受益非浅。</tspan><tspan x="2017" dy="15.5">因此，在班级进行良好品德的养成教育是十分</tspan><tspan x="2017" dy="15.5">必要的。根据学生的思想实际情况，与学校的</tspan><tspan x="2017" dy="15.5">德育工作密切配合，本学期，将从不同的方面</tspan><tspan x="2017" dy="15.5">和角度对学生进行规律性的常规训练。重点落</tspan><tspan x="2017" dy="15.5">实好《小学生日常行为规范》，使学生逐步形</tspan><tspan x="2017" dy="15.5">成良好的道德品质，行为习惯，学习习惯和积</tspan><tspan x="2017" dy="15.5">极的学习态度，不使一个学生掉队。</tspan></text></g>
<g id="c-r4"><rect class="nc" x="2010" y="1139" width="253" height="214.5" rx="6"/><text class="t"><tspan x="2017" y="1157.5">3、重视提高各学科的教学质量。学习上，做</tspan><tspan x="2017" dy="15.5">到抓两头促中间，促进学生整体水平提高。向</tspan><tspan x="2017" dy="15.5">各科任教师推荐本班学科尖子生，请科任教师</tspan><tspan x="2017" dy="15.5">加强辅导，善于发现优等生，在班中树立榜样</tspan><tspan x="2017" dy="15.5">。正确对待后进生，在生活上、学习上从"爱</tspan><tspan x="2017" dy="15.5">出发"。主动接近，真诚、平等对待，深入了</tspan><tspan x="2017" dy="15.5">解他们落后的原因，帮助他们解决困难，还要</tspan><tspan x="2017" dy="15.5">善于发现后进生身上的闪光点，努力培养他们</tspan><tspan x="2017" dy="15.5">对学习的兴趣。加强后三分之一学生的管理：</tspan><tspan x="2017" dy="15.5">面向全体学生，分类施教，加强对后三分之一</tspan><tspan x="2017" dy="15.5">学生的辅导，要从关心、爱护学生的角度出发</tspan><tspan x="2017" dy="15.5">，了解关心学生。及时了解学生的心理变化，</tspan><tspan x="2017" dy="15.5">掌握他们成长道路上的发展情况。</tspan></text></g>
<g id="c-r5"><rect class="nc" x="2010" y="1379" width="253" height="121.5" rx="6"/><text class="t"><tspan x="2017" y="1397.5">4、培养班级干部：及时召开班干部会议，针</tspan><tspan x="2017" dy="15.5">对他们在工作中出现的问题，教给他们工作方</tspan><tspan x="2017" dy="15.5">法，使他们明确自己的职责，指出他们的优缺</tspan><tspan x="2017" dy="15.5">点和今后努力工作的方向。同时，还要求他们</tspan><tspan x="2017" dy="15.5">注意班干部成员之间的合作，齐心协力，拧成</tspan><tspan x="2017" dy="15.5">一股绳，尽力在同学之间树立他们的威信，创</tspan><tspan x="2017" dy="15.5">造机会，锻炼和培养他们的能力。</tspan></text></g>
<g id="c-r6"><rect class="nc" x="2010" y="1525" width="253" height="75" rx="6"/><text class="t"><tspan x="2017" y="1543.5">5、重视关怀教育：要关心学生的生活，及时</tspan><tspan x="2017" dy="15.5">和家长联系，体贴他们的冷暖，了解他们的心</tspan><tspan x="2017" dy="15.5">理，建立平等和谐的师生关系，做学生的知心</tspan><tspan x="2017" dy="15.5">朋友。</tspan></text></g>
<g id="c-r7"><rect class="nc" x="2010" y="1626" width="253" height="75" rx="6"/><text class="t"><tspan x="2017" y="1644.5">6、抓好少先队工作：班级工作的一个重要部</tspan><tspan x="2017" dy="15.5">分，就是班主任工作，是充分发挥学生特长、</tspan><tspan x="2017" dy="15.5">张扬学生个性的有效途径。本学期将积极配合</tspan><tspan x="2017" dy="15.5">学校少先大队，结合实际搞好各项活动。</tspan></text></g>
<g id="c-r8"><rect class="nc" x="2010" y="1725" width="253" height="75" rx="6"/><text class="t"><tspan x="2017" y="1743.5">7、重视文体工作：教育学生上好所有学校开</tspan><tspan x="2017" dy="15.5">设的课程，积极参加体育锻炼，积极参与学校</tspan><tspan x="2017" dy="15.5">组织的文娱活动，重视各项比赛的积极参与，</tspan><tspan x="2017" dy="15.5">培养学生的参与意识。</tspan></text></g>

<g id="o-l1"><rect class="no" x="1867" y="2123" width="120" height="27" rx="5"/><text class="t" x="1874" y="2141">一、教学要求和目的</text></g>
<g id="o-s1"><rect class="no" x="2010" y="1898" width="127" height="27" rx="5"/><text class="t" x="2017" y="1916">1、识字、学词和练句</text></g>
<g id="o-o1"><rect class="no" x="2160" y="1825" width="253" height="75" rx="6"/><text class="t"><tspan x="2167" y="1843.5">使学生自主识字学词练句，在运用中继续体会</tspan><tspan x="2167" dy="15.5">，还要组织学生交流，通过交流查漏补缺。对</tspan><tspan x="2167" dy="15.5">错别字、病句的问题应当结合学生的实际进行</tspan><tspan x="2167" dy="15.5">教学。</tspan></text></g>
<g id="o-o2"><rect class="no" x="2160" y="1925" width="253" height="75" rx="6"/><text class="t"><tspan x="2167" y="1943.5">那些带普遍性的错字病句，要发动学生讨论如</tspan><tspan x="2167" dy="15.5">何解决问题。只有密切联系学生的实际，才能</tspan><tspan x="2167" dy="15.5">更好地调动学生自觉学习的积极性，基本知识</tspan><tspan x="2167" dy="15.5">的教学才能更有针对性，效果才能更好。</tspan></text></g>
<g id="o-s2"><rect class="no" x="2010" y="2049" width="55" height="27" rx="5"/><text class="t" x="2017" y="2067">2、阅读</text></g>
<g id="o-o3"><rect class="no" x="2088" y="2025" width="252" height="75" rx="6"/><text class="t"><tspan x="2095" y="2043.5">学会阅读的方法、养成阅读的好习惯。学会写</tspan><tspan x="2095" dy="15.5">摘录笔记、批注笔记，并用来自读。培养每天</tspan><tspan x="2095" dy="15.5">阅读、读书动笔、阅读时翻查工具书等好习惯</tspan><tspan x="2095" dy="15.5">。</tspan></text></g>
<g id="o-s3"><rect class="no" x="2010" y="2156" width="55" height="27" rx="5"/><text class="t" x="2017" y="2174">3、习作</text></g>
<g id="o-o4"><rect class="no" x="2088" y="2125" width="252" height="90.5" rx="6"/><text class="t"><tspan x="2095" y="2143.5">以认真阅读为前提、感受为主，抓重点写，注</tspan><tspan x="2095" dy="15.5">意错别字和病句，提出评语的语言要求。用典</tspan><tspan x="2095" dy="15.5">型引路，可以对比修改，修改自己的习作，并</tspan><tspan x="2095" dy="15.5">主动与他人交换修改，做到语句通顺行款正确</tspan><tspan x="2095" dy="15.5">，书写规范、整洁。</tspan></text></g>
<g id="o-s4"><rect class="no" x="2010" y="2256" width="79" height="27" rx="5"/><text class="t" x="2017" y="2274">4、口语交际</text></g>
<g id="o-o5"><rect class="no" x="2112" y="2241" width="252" height="59.5" rx="6"/><text class="t"><tspan x="2119" y="2259.5">与人交流能尊重、理解对方。乐于参与讨论，</tspan><tspan x="2119" dy="15.5">敢于发表自己的意见。表达要有条理，语气、</tspan><tspan x="2119" dy="15.5">语调适当。</tspan></text></g>
<g id="o-s5"><rect class="no" x="2010" y="2348" width="90" height="27" rx="5"/><text class="t" x="2017" y="2366">5、综合性学习</text></g>
<g id="o-o6"><rect class="no" x="2124" y="2325" width="252" height="75" rx="6"/><text class="t"><tspan x="2131" y="2343.5">制订可以实行的小组活动计划，自始至终要突</tspan><tspan x="2131" dy="15.5">出学生的自主性，强调合作精神。最重要的是</tspan><tspan x="2131" dy="15.5">学生的主动精神、创造性和合作意识，是提出</tspan><tspan x="2131" dy="15.5">问题、分析问题、解决问题的能力得到提高。</tspan></text></g>
<g id="o-l2"><rect class="no" x="1867" y="2464" width="96" height="27" rx="5"/><text class="t" x="1874" y="2482">二、、教材简析</text></g>
<g id="o-o7"><rect class="no" x="1985" y="2425" width="253" height="106" rx="6"/><text class="t"><tspan x="1992" y="2443.5">本册教材秉承了前八册"培养兴趣、文化积累</tspan><tspan x="1992" dy="15.5">、学会学习、整体推进"的总特点，从选编课</tspan><tspan x="1992" dy="15.5">文、设计活动、安排练习等各方面拓宽并深化</tspan><tspan x="1992" dy="15.5">了学习内容。本册教学内容共有6个单元，每</tspan><tspan x="1992" dy="15.5">个单元依然由主体课文和"语文百花园"两部分</tspan><tspan x="1992" dy="15.5">组成，以保持教材的连贯性。</tspan></text></g>
<g id="o-l3"><rect class="no" x="1867" y="2603" width="132" height="27" rx="5"/><text class="t" x="1874" y="2621">三、学生基本情况分析</text></g>
<g id="o-o8"><rect class="no" x="2022" y="2556" width="252" height="121.5" rx="6"/><text class="t"><tspan x="2029" y="2574.5">我们班45人，思维活跃的半数，孩子个性较</tspan><tspan x="2029" dy="15.5">强，多数学生对语文感兴趣，有较好的学习习</tspan><tspan x="2029" dy="15.5">惯，掌握了一定的阅读和写作方法，乐于读书</tspan><tspan x="2029" dy="15.5">和积累，但是有少部分学生学习态度不端正，</tspan><tspan x="2029" dy="15.5">自主学习能力差，家长又疏于教导，因而知识</tspan><tspan x="2029" dy="15.5">面狭窄，语言表达能力差，动手动脑能力差，</tspan><tspan x="2029" dy="15.5">更需要关注他们。</tspan></text></g>
<g id="o-l4"><rect class="no" x="1867" y="2811" width="108" height="27" rx="5"/><text class="t" x="1874" y="2829">四、教学方法设计</text></g>
<g id="o-o9"><rect class="no" x="1997" y="2703" width="253" height="106" rx="6"/><text class="t"><tspan x="2004" y="2721.5">充分发挥师生双方在教学中的主动性和创造性</tspan><tspan x="2004" dy="15.5">。注重培养学生自主学习的意识和习惯，为学</tspan><tspan x="2004" dy="15.5">生创设良好的自主学习情境，尊重学生的个体</tspan><tspan x="2004" dy="15.5">差异，鼓励学生选择适合自己的学习方式。教</tspan><tspan x="2004" dy="15.5">师应转变观念，更新知识，不断提高自身的综</tspan><tspan x="2004" dy="15.5">合素养。</tspan></text></g>
<g id="o-o10"><rect class="no" x="1997" y="2833" width="253" height="121.5" rx="6"/><text class="t"><tspan x="2004" y="2851.5">努力改进课堂教学，整体考虑知识与能力、情</tspan><tspan x="2004" dy="15.5">感与态度、过程与方法的综合，提倡启发式、</tspan><tspan x="2004" dy="15.5">讨论式教学，充分利用学校等教育资源，开展</tspan><tspan x="2004" dy="15.5">综合性学习活动，拓宽学生的学习空间，增加</tspan><tspan x="2004" dy="15.5">学生语文实践的机会。重视情感、态度、价值</tspan><tspan x="2004" dy="15.5">观的正确导向。遵循学生身心发展和语文学习</tspan><tspan x="2004" dy="15.5">的规律，选择教学策略。</tspan></text></g>
<g id="o-l5"><rect class="no" x="1867" y="3088" width="108" height="27" rx="5"/><text class="t" x="1874" y="3106">五、教学课时安排</text></g>
<g id="o-o11"><rect class="no" x="1997" y="2981" width="230" height="27" rx="5"/><text class="t" x="2004" y="2999">按照课程计划和教学内容合理安排教学。</text></g>
<g id="o-s6"><rect class="no" x="1997" y="3196" width="108" height="27" rx="5"/><text class="t" x="2004" y="3214">六、教学评价方案</text></g>
<g id="o-e1"><rect class="no" x="2129" y="3034" width="79" height="27" rx="5"/><text class="t" x="2136" y="3052">1、评价原则</text></g>
<g id="o-p1"><rect class="no" x="2231" y="3034" width="252" height="27" rx="5"/><text class="t" x="2238" y="3052">以人为本的原则、鼓励性原则、发展性原则。</text></g>
<g id="o-e2"><rect class="no" x="2129" y="3088" width="79" height="27" rx="5"/><text class="t" x="2136" y="3106">2、评价内容</text></g>
<g id="o-p2"><rect class="no" x="2231" y="3088" width="192" height="27" rx="5"/><text class="t" x="2238" y="3106">识字写字、朗读背诵、课外阅读、</text></g>
<g id="o-e3"><rect class="no" x="2129" y="3157" width="91" height="27" rx="5"/><text class="t" x="2136" y="3175">3、口语交际：</text></g>
<g id="o-p3"><rect class="no" x="2243" y="3142" width="252" height="59.5" rx="6"/><text class="t"><tspan x="2250" y="3160.5">能用普通话交谈，说话文明得体、声音洪亮；</tspan><tspan x="2250" dy="15.5">能清楚明白表达意思；能转述他人说话的内容</tspan><tspan x="2250" dy="15.5">；能具体生动讲述故事。</tspan></text></g>
<g id="o-e4"><rect class="no" x="2129" y="3249" width="91" height="27" rx="5"/><text class="t" x="2136" y="3267">5、习作表达：</text></g>
<g id="o-p4"><rect class="no" x="2243" y="3226" width="252" height="75" rx="6"/><text class="t"><tspan x="2250" y="3244.5">留心观察、积极体验，有些日记或随笔的习惯</tspan><tspan x="2250" dy="15.5">；乐于写作、乐于修改习作；能写出条理清楚</tspan><tspan x="2250" dy="15.5">、内容具体、语言生动、有真情实感、有一定</tspan><tspan x="2250" dy="15.5">的中心的文章。</tspan></text></g>
<g id="o-e5"><rect class="no" x="2129" y="3357" width="102" height="27" rx="5"/><text class="t" x="2136" y="3375">6、综合性学习：</text></g>
<g id="o-p5"><rect class="no" x="2255" y="3326" width="252" height="90.5" rx="6"/><text class="t"><tspan x="2262" y="3344.5">能利用图书、网络等信息渠道查找资料，运用</tspan><tspan x="2262" dy="15.5">资料解决学习和生活中的问题；能策划和实施</tspan><tspan x="2262" dy="15.5">简单的校园和社会活动，能写活动计划和活动</tspan><tspan x="2262" dy="15.5">总结；能针对热点问题或电视电影中的故事和</tspan><tspan x="2262" dy="15.5">形象组织讨论，进行专题演讲。</tspan></text></g>
</svg>
